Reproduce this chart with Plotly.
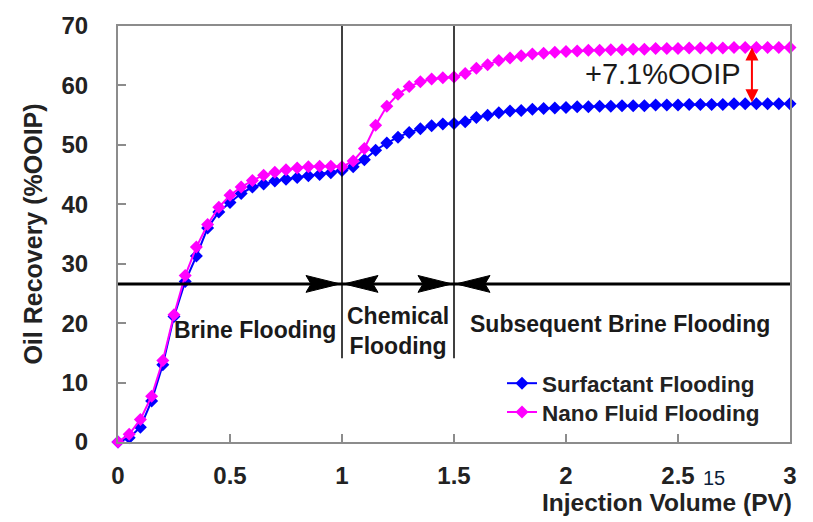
import plotly.graph_objects as go

# Injection volume (PV) sampled every 0.05 PV
pv = [round(i * 0.05, 2) for i in range(61)]

surfactant = [
    0.0, 0.7, 2.5, 6.9, 13.0, 21.1, 27.0, 31.3, 36.0, 38.7,
    40.3, 41.8, 42.9, 43.4, 43.9, 44.2, 44.5, 44.8, 45.0, 45.3,
    45.7, 46.3, 47.5, 49.1, 50.3, 51.3, 52.1, 52.7, 53.2, 53.5,
    53.6, 53.9, 54.6, 55.0, 55.4, 55.7, 55.8, 56.0, 56.1, 56.2,
    56.3, 56.4, 56.4, 56.5, 56.5, 56.6, 56.6, 56.6, 56.7, 56.7,
    56.7, 56.8, 56.8, 56.8, 56.8, 56.9, 56.9, 56.9, 56.9, 56.9,
    56.9,
]

nano_fluid = [
    0.0, 1.3, 3.8, 7.7, 13.7, 21.4, 28.0, 32.8, 36.6, 39.5,
    41.5, 42.9, 44.0, 44.9, 45.4, 45.8, 46.1, 46.3, 46.4, 46.4,
    46.3, 47.3, 49.4, 53.3, 56.5, 58.5, 59.8, 60.6, 61.1, 61.3,
    61.4, 62.0, 62.9, 63.5, 64.2, 64.6, 65.0, 65.3, 65.4, 65.6,
    65.7, 65.8, 65.9, 65.9, 66.0, 66.0, 66.1, 66.1, 66.2, 66.2,
    66.2, 66.3, 66.3, 66.3, 66.3, 66.4, 66.4, 66.4, 66.4, 66.4,
    66.4,
]

series_names = ["Surfactant Flooding", "Nano Fluid Flooding"]
x_ticks = [0, 0.5, 1, 1.5, 2, 2.5, 3]
x_tick_labels = ["0", "0.5", "1", "1.5", "2", "2.5", "3"]
y_ticks = [0, 10, 20, 30, 40, 50, 60, 70]

# Stage boundaries (PV) and the stage-arrow level
stage_bounds = [0.0, 1.0, 1.5, 3.0]
stage_arrow_level = 26.6
divider_bottom = 14.1
stage_labels = ["Brine Flooding", "Chemical<br>Flooding", "Subsequent Brine Flooding"]
gain_label = "+7.1%OOIP"
gain_pv = 2.8          # sample whose gap is marked
gain_arrow_x = 2.83    # where the gap arrow is drawn

X_RANGE = [0, 3]
Y_RANGE = [0, 70]

W, H = 813, 522
M = dict(l=118, r=23, t=22, b=80)
plot_w = W - M["l"] - M["r"]
plot_h = H - M["t"] - M["b"]
ux = (X_RANGE[1] - X_RANGE[0]) / plot_w   # data units per px (x)
uy = (Y_RANGE[1] - Y_RANGE[0]) / plot_h   # data units per px (y)


def px_x(px):
    return (px - M["l"]) / plot_w


def px_y(py):
    return (M["t"] + plot_h - py) / plot_h


FONT = "Arial, 'Liberation Sans', sans-serif"
TXT = "#222222"

fig = go.Figure()

fig.add_trace(go.Scatter(
    x=pv, y=surfactant, name=series_names[0], mode="lines+markers",
    line=dict(color="#0000ff", width=2),
    marker=dict(symbol="diamond", size=10, color="#0000ff"),
    cliponaxis=False, legend="legend",
))
fig.add_trace(go.Scatter(
    x=pv, y=nano_fluid, name=series_names[1], mode="lines+markers",
    line=dict(color="#ff00ff", width=2),
    marker=dict(symbol="diamond", size=10, color="#ff00ff"),
    cliponaxis=False, legend="legend2",
))

shapes = []
# vertical stage dividers
for b in stage_bounds[1:-1]:
    shapes.append(dict(type="line", xref="x", yref="y", x0=b, x1=b,
                       y0=divider_bottom, y1=Y_RANGE[1],
                       line=dict(color="black", width=1.5)))
# horizontal stage arrow line
shapes.append(dict(type="line", xref="x", yref="y",
                   x0=stage_bounds[0], x1=stage_bounds[-1],
                   y0=stage_arrow_level, y1=stage_arrow_level,
                   line=dict(color="black", width=3)))

# arrowheads at each internal boundary (pointing in from both sides)
head_len, head_half, notch = 34 * ux, 8.5 * uy, 5 * ux


def head(tip_x, tip_y, direction):
    d = direction
    bx = tip_x - d * head_len
    nx = tip_x - d * (head_len - notch)
    return (f"M {tip_x},{tip_y} L {bx},{tip_y + head_half} "
            f"L {nx},{tip_y} L {bx},{tip_y - head_half} Z")


for b in stage_bounds[1:-1]:
    for d, off in ((1, -2 * ux), (-1, 2 * ux)):
        shapes.append(dict(type="path", xref="x", yref="y",
                           path=head(b + off, stage_arrow_level, d),
                           fillcolor="black", line=dict(color="black", width=1)))

annotations = []
# stage labels
label_font = dict(family=FONT, size=23, color="#1a1a1a", weight="bold")
annotations.append(dict(x=0.982, y=18.9, xref="x", yref="y", text=stage_labels[0],
                        showarrow=False, xanchor="right", font=label_font))
annotations.append(dict(x=1.252, y=18.6, xref="x", yref="y", text=stage_labels[1],
                        showarrow=False, font=label_font))
annotations.append(dict(x=2.243, y=19.8, xref="x", yref="y", text=stage_labels[2],
                        showarrow=False, font=label_font))

# recovery gain: double-headed red arrow between the two curves
gi = pv.index(gain_pv)
annotations.append(dict(x=gain_arrow_x, y=nano_fluid[gi], ax=gain_arrow_x, ay=surfactant[gi],
                        xref="x", yref="y", axref="x", ayref="y", text="",
                        showarrow=True, arrowside="end+start", arrowhead=2,
                        startarrowhead=2, arrowsize=1.3, startarrowsize=1.3,
                        arrowwidth=2, arrowcolor="#ff0000"))
annotations.append(dict(x=2.433, y=61.9, xref="x", yref="y", text=gain_label,
                        showarrow=False,
                        font=dict(family=FONT, size=29, color="#1a1a1a")))

# x-axis title, right-aligned to the plot edge
annotations.append(dict(x=px_x(794), y=px_y(503.5), xref="paper", yref="paper",
                        text="Injection Volume (PV)", showarrow=False,
                        xanchor="right", yanchor="middle",
                        font=dict(family=FONT, size=24.5, color=TXT, weight="bold")))
# page number
annotations.append(dict(x=px_x(714), y=px_y(478), xref="paper", yref="paper",
                        text="15", showarrow=False, xanchor="center", yanchor="middle",
                        font=dict(family=FONT, size=20, color="#0b1e3a")))

legend_font = dict(family=FONT, size=22.5, color=TXT, weight="bold")
fig.update_layout(
    width=W, height=H, margin=M,
    paper_bgcolor="white", plot_bgcolor="white",
    font=dict(family=FONT, color=TXT),
    shapes=shapes, annotations=annotations,
    showlegend=True,
    legend=dict(x=px_x(502), y=px_y(383), xanchor="left", yanchor="middle",
                bgcolor="rgba(0,0,0,0)", font=legend_font, itemwidth=30),
    legend2=dict(x=px_x(502), y=px_y(412), xanchor="left", yanchor="middle",
                 bgcolor="rgba(0,0,0,0)", font=legend_font, itemwidth=30),
)

fig.update_xaxes(
    range=X_RANGE, tickvals=x_ticks, ticktext=x_tick_labels,
    ticks="inside", ticklen=8, tickcolor="#8c8c8c", tickwidth=2,
    showline=True, linecolor="#8c8c8c", linewidth=2, mirror=True,
    showgrid=False, zeroline=False, ticklabelstandoff=11,
    tickfont=dict(family=FONT, size=24, color=TXT, weight="bold"),
)
fig.update_yaxes(
    range=Y_RANGE, tickvals=y_ticks,
    ticks="inside", ticklen=8, tickcolor="#8c8c8c", tickwidth=2,
    showline=True, linecolor="#8c8c8c", linewidth=2, mirror=True,
    showgrid=False, zeroline=False, ticklabelstandoff=23,
    tickfont=dict(family=FONT, size=24, color=TXT, weight="bold"),
    title=dict(text="Oil Recovery (%OOIP)", standoff=12,
               font=dict(family=FONT, size=25, color=TXT, weight="bold")),
)

fig.write_html("out.html")
